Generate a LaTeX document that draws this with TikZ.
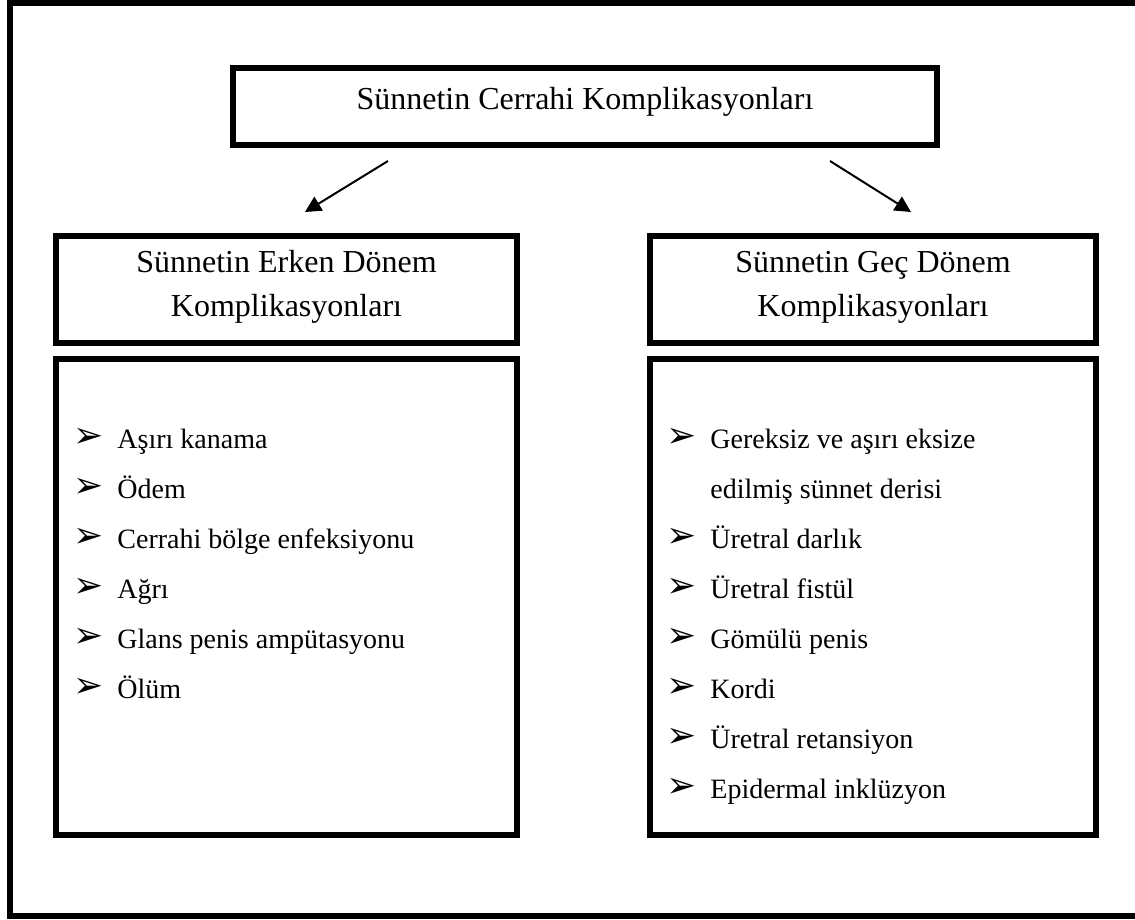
\documentclass[tikz,border=0pt]{standalone}
\usepackage{fontspec}
\setmainfont{Liberation Serif}
\newfontfamily\dejavu{DejaVu Sans}
\usetikzlibrary{arrows.meta}
\tikzset{
  box/.style={draw, line width=3pt, inner sep=0pt},
  heading/.style={inner sep=0pt, font=\fontsize{16}{22}\selectfont, align=center},
  item/.style={anchor=base west, inner sep=0pt, font=\fontsize{14}{17}\selectfont},
  bul/.style={anchor=center, inner sep=0pt, font=\dejavu\fontsize{18}{20}\selectfont},
  conn/.style={line width=1pt, -{Triangle[length=8pt,width=8pt]}}
}
\begin{document}
\begin{tikzpicture}[x=0.5pt,y=-0.5pt]
\useasboundingbox (0,0) rectangle (1135,920);
\clip (0,0) rectangle (1135,920);
\draw[line width=3pt] (10,3) rectangle (1145,916);
% boxes
\node[box, minimum width=352pt, minimum height=38.5pt] (top) at (585,107) {};
\node[heading, anchor=base] (topt) at (585,110) {Sünnetin Cerrahi Komplikasyonları};
\node[box, minimum width=230.5pt, minimum height=53.5pt] (lhead) at (286.5,289.5) {};
\node[heading] (lheadt) at (286.5,287) {Sünnetin Erken Dönem\\Komplikasyonları};
\node[box, minimum width=223pt, minimum height=53.5pt] (rhead) at (873,289.5) {};
\node[heading] (rheadt) at (873,287) {Sünnetin Geç Dönem\\Komplikasyonları};
\node[box, minimum width=230.5pt, minimum height=238pt] (llist) at (286.5,597) {};
\node[box, minimum width=223pt, minimum height=238pt] (rlist) at (873,597) {};
% connectors
\coordinate (a1s) at (388,161);
\coordinate (a1e) at (305,212);
\coordinate (a2s) at (830,161);
\coordinate (a2e) at (911,212);
\draw[conn] (a1s) -- (a1e);
\draw[conn] (a2s) -- (a2e);
% left list
\foreach \t [count=\i] in {Aşırı kanama, Ödem, Cerrahi bölge enfeksiyonu, Ağrı, Glans penis ampütasyonu, Ölüm}{
  \node[bul] (lb\i) at (89,{438+50*(\i-1)}) {➢};
  \node[item] (lt\i) at (117,{448+50*(\i-1)}) {\t};
}
% right list
\node[bul] (rb1) at (682,438) {➢};
\node[item] (rt1) at (710,448) {Gereksiz ve aşırı eksize};
\node[item] (rt1b) at (710,498) {edilmiş sünnet derisi};
\foreach \t [count=\i from 2] in {Üretral darlık, Üretral fistül, Gömülü penis, Kordi, Üretral retansiyon, Epidermal inklüzyon}{
  \node[bul] (rb\i) at (682,{438+50*\i}) {➢};
  \node[item] (rt\i) at (710,{448+50*\i}) {\t};
}
\end{tikzpicture}
\end{document}
